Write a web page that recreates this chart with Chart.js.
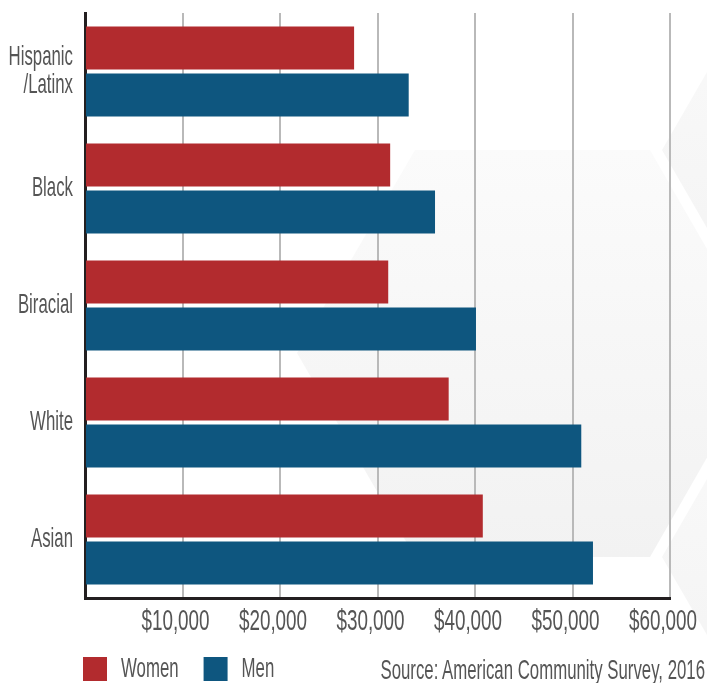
<!DOCTYPE html>
<html>
<head>
<meta charset="utf-8">
<script src="https://cdn.jsdelivr.net/npm/chart.js@4/dist/chart.umd.min.js"></script>
<style>
  html, body { margin: 0; padding: 0; background: #ffffff; }
  #wrap { position: relative; width: 707px; height: 683px; overflow: hidden; }
  #bg { position: absolute; left: 0; top: 0; }
  #c { position: absolute; left: 0; top: 0; }
  #source { position: absolute; right: 2px; top: 656px; font-family: "Liberation Sans", Arial, sans-serif; font-size: 28px; line-height: 28px; color: #555555; white-space: nowrap; transform: scaleX(0.6); transform-origin: right center; }
</style>
</head>
<body>
<div id="wrap">
  <svg id="bg" width="707" height="683">
    <defs>
      <linearGradient id="g" x1="0" y1="0" x2="0" y2="1">
        <stop offset="0" stop-color="#fbfbfb"/>
        <stop offset="1" stop-color="#f2f2f2"/>
      </linearGradient>
    </defs>
    <polygon fill="url(#g)" points="415,150 650,150 767,353 650,557 415,557 297,353"/>
    <polygon fill="url(#g)" points="779,-53 1014,-53 1131,150 1014,353 779,353 662,150"/>
    <polygon fill="url(#g)" points="779,354 1014,354 1131,557 1014,760 779,760 662,557"/>
  </svg>
  <canvas id="c" width="707" height="683"></canvas>
  <div id="source">Source: American Community Survey, 2016</div>
</div>
<script>
const categories = [["Hispanic", "/Latinx"], "Black", "Biracial", "White", "Asian"];
const seriesNames = ["Women", "Men"];
const womenValues = [27600, 31300, 31100, 37300, 40800];
const menValues = [33200, 35900, 40100, 50900, 52100];
const tickValues = [0, 10000, 20000, 30000, 40000, 50000, 60000];

const FONT = "'Liberation Sans', Arial, sans-serif";
const TEXT = "#555555";

// Condensed rendering of the regular sans font (the original uses a condensed face)
const canvas = document.getElementById("c");
const g2d = canvas.getContext("2d");
const origFill = g2d.fillText;
const origMeasure = g2d.measureText;
function condense(font) { return /\b29px\b/.test(font) ? 0.65 : (/\b28px\b/.test(font) ? 0.60 : 1); }
g2d.fillText = function (t, x, y, mw) {
  const sx = condense(this.font);
  if (sx === 1) return origFill.call(this, t, x, y, mw);
  this.save();
  this.translate(x, y);
  this.scale(sx, 1);
  origFill.call(this, t, 0, 0);
  this.restore();
};
g2d.measureText = function (t) {
  const m = origMeasure.call(this, t);
  const sx = condense(this.font);
  return {
    width: m.width * sx,
    actualBoundingBoxAscent: m.actualBoundingBoxAscent,
    actualBoundingBoxDescent: m.actualBoundingBoxDescent,
    actualBoundingBoxLeft: m.actualBoundingBoxLeft * sx,
    actualBoundingBoxRight: m.actualBoundingBoxRight * sx,
    fontBoundingBoxAscent: m.fontBoundingBoxAscent,
    fontBoundingBoxDescent: m.fontBoundingBoxDescent
  };
};

const legendPlace = {
  id: "legendPlace",
  afterLayout(chart) {
    const lg = chart.legend;
    if (!lg) return;
    lg.left += 58; lg.right += 58;
    lg.top -= 8;
  }
};

new Chart(canvas, {
  type: "bar",
  data: {
    labels: categories,
    datasets: [
      { label: seriesNames[0], data: womenValues, backgroundColor: "#b22b2e", categoryPercentage: 0.803, barPercentage: 0.915 },
      { label: seriesNames[1], data: menValues, backgroundColor: "#0e567f", categoryPercentage: 0.803, barPercentage: 0.915 }
    ]
  },
  plugins: [legendPlace],
  options: {
    indexAxis: "y",
    responsive: false,
    animation: false,
    events: [],
    layout: { padding: { left: 0, top: 13, right: 37, bottom: 0 } },
    plugins: {
      tooltip: { enabled: false },
      legend: {
        position: "bottom",
        align: "start",
        maxHeight: 45,
        labels: {
          boxWidth: 24,
          boxHeight: 24,
          padding: 25,
          color: TEXT,
          font: { family: FONT, size: 28 }
        }
      }
    },
    scales: {
      x: {
        min: 0,
        max: 60000,
        afterBuildTicks: s => { s.ticks = tickValues.map(v => ({ value: v })); },
        afterFit: s => { s.height = 40; s.paddingLeft = 0; s.paddingRight = 0; },
        grid: {
          color: ctx => (ctx.tick && ctx.tick.value === 0) ? "rgba(0,0,0,0)" : "#b9b9b9",
          lineWidth: 2,
          drawTicks: false
        },
        border: { display: true, color: "#231f20", width: 3 },
        ticks: {
          padding: 7,
          labelOffset: -7,
          color: TEXT,
          font: { family: FONT, size: 29 },
          callback: v => v === 0 ? "" : "$" + Number(v).toLocaleString("en-US")
        }
      },
      y: {
        afterFit: s => { s.width = 85; s.paddingTop = 0; s.paddingBottom = 0; },
        grid: { display: false, drawTicks: false },
        border: { display: true, color: "#231f20", width: 3 },
        ticks: {
          padding: 12,
          color: TEXT,
          font: { family: FONT, size: 28, lineHeight: 1.0 }
        }
      }
    }
  }
});
</script>
</body>
</html>
